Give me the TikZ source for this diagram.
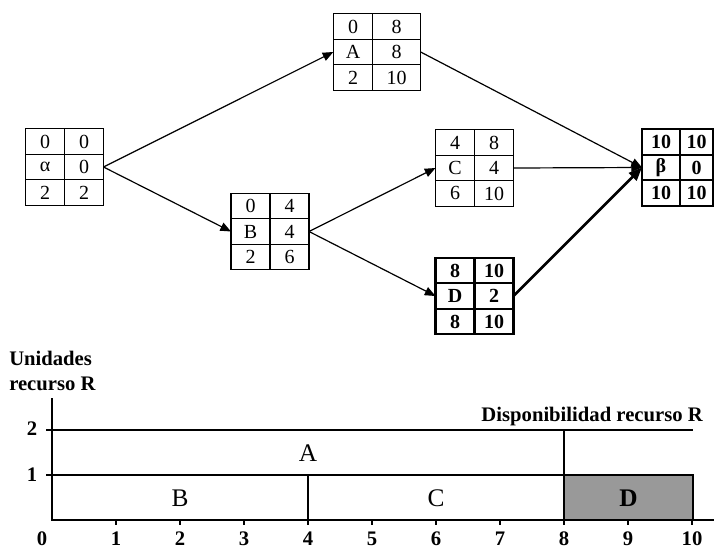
\documentclass[tikz,border=0pt]{standalone}
\usepackage{fontspec}
\setmainfont{Liberation Serif}
\usetikzlibrary{matrix,arrows.meta}

\definecolor{dfill}{gray}{0.6}

\tikzset{
  % activity box: 3 rows x 2 columns of framed cells
  pert/.style={matrix of nodes, inner sep=0pt, outer sep=0pt,
    column sep=-1pt, row sep=-1pt,
    nodes={draw, line width=1pt, inner sep=0pt, anchor=center,
      minimum width=29.25pt, minimum height=19.1pt,
      font=\fontsize{15}{15}\selectfont}},
  pertbold/.style={matrix of nodes, inner sep=0pt, outer sep=0pt,
    column sep=-1.6pt, row sep=-1.6pt,
    nodes={draw, line width=1.6pt, inner sep=0pt, anchor=center,
      minimum width=29.25pt, minimum height=19.1pt,
      font=\fontsize{15}{15}\selectfont\bfseries}},
  link/.style={line width=0.9pt, -{Triangle[length=8pt,width=6.5pt]}},
  critical/.style={line width=2pt, -{Triangle[length=10pt,width=8pt]}},
  axisline/.style={line width=1.5pt},
  thinline/.style={line width=1pt},
  lab/.style={font=\fontsize{15.5}{15.5}\selectfont\bfseries, inner sep=0pt},
  bar/.style={font=\fontsize{19}{19}\selectfont, inner sep=0pt},
}

\begin{document}
\begin{tikzpicture}[x=0.75pt,y=-0.75pt]
\useasboundingbox (0,0) rectangle (714,550);

% ---------- activity network ----------
\matrix (al) [pert] at (64.5,167) {0 & 0\\ α & 0\\ 2 & 2\\};
\matrix (A) [pert, column 1/.style={nodes={minimum width=29.5pt}},
  column 2/.style={nodes={minimum width=36pt}}] at (377,52) {0 & 8\\ A & 8\\ 2 & 10\\};
\matrix (B) [pert] at (270,231.5) {0 & 4\\ B & 4\\ 2 & 6\\};
\matrix (C) [pert] at (474.5,168) {4 & 8\\ C & 4\\ 6 & 10\\};
\matrix (D) [pertbold] at (474.5,296) {8 & 10\\ D & 2\\ 8 & 10\\};
\matrix (be) [pertbold, column 1/.style={nodes={minimum width=28.5pt}},
  column 2/.style={nodes={minimum width=24.75pt}}] at (677.5,167.5)
  {10 & 10\\ β & 0\\ 10 & 10\\};

\draw[link] (al-2-2.east) -- (A-2-1.west);
\draw[link] (al-2-2.east) -- (B-2-1.west);
\draw[link] (A-2-2.east) -- (be-2-1.west);
\draw[link] (B-2-2.east) -- (C-2-1.west);
\draw[link] (B-2-2.east) -- (D-2-1.west);
\draw[link] (C-2-2.east) -- (be-2-1.west);
\draw[critical] (D-2-2.east) -- (be-2-1.west);

% ---------- resource profile ----------
\node[lab, anchor=base west] (ulab1) at (9,365) {Unidades};
\node[lab, anchor=base west] (ulab2) at (9,390) {recurso R};
\node[lab, anchor=base east] (avail) at (703,421) {Disponibilidad recurso R};

\draw[thinline, fill=dfill] (564,475) rectangle (693,520);
\draw[axisline] (52,430) -- (693,430);
\draw[thinline] (52,475) -- (564,475);
\draw[thinline] (308,475) -- (308,524);
\draw[thinline] (564,430) -- (564,524);
\draw[axisline] (52,398) |- (714,520);

\foreach \k in {1,...,10} \draw[line width=1.2pt] (52+64*\k,520) -- (52+64*\k,525);
\draw[line width=1.2pt] (46,430) -- (52,430);
\draw[line width=1.2pt] (46,475) -- (52,475);

\node[lab] (y2) at (32,429) {2};
\node[lab] (y1) at (32,475) {1};

\node[lab] (x0) at (42,539) {0};
\foreach \k in {1,...,10} \node[lab] (x\k) at (52+64*\k,539) {\k};

\node[bar] (barA) at (308,453.5) {A};
\node[bar] (barB) at (180,498.5) {B};
\node[bar] (barC) at (436,498.5) {C};
\node[bar, font=\fontsize{19}{19}\selectfont\bfseries] (barD) at (628.5,498.5) {D};
\end{tikzpicture}
\end{document}
